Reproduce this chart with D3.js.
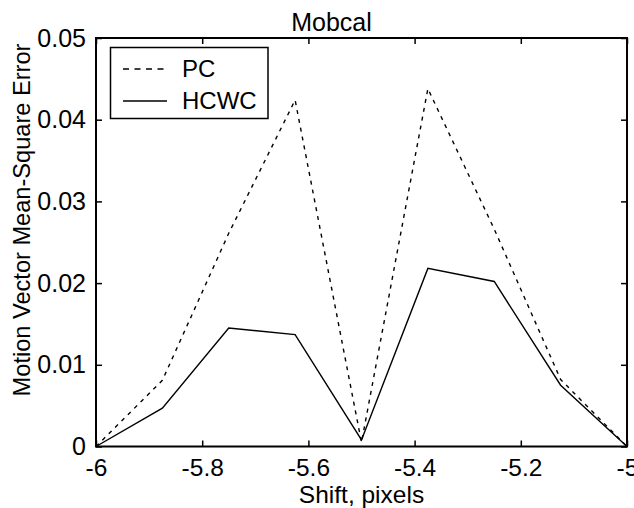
<!DOCTYPE html>
<html>
<head>
<meta charset="utf-8">
<script src="https://cdn.jsdelivr.net/npm/d3@7"></script>
<style>
  html, body { margin: 0; padding: 0; background: #fff; }
  svg { display: block; }
  text { font-family: "Liberation Sans", Arial, sans-serif; fill: #000; }
</style>
</head>
<body>
<svg id="chart" width="634" height="508"></svg>
<script>
// ---- data ----
const shifts = [-6, -5.875, -5.75, -5.625, -5.5, -5.375, -5.25, -5.125, -5];
const pcValues = [0, 0.0081, 0.0261, 0.0424, 0.0005, 0.0438, 0.0266, 0.0082, 0];
const hcwcValues = [0, 0.0047, 0.0145, 0.0137, 0.0008, 0.0218, 0.0202, 0.0075, 0];
const seriesNames = ["PC", "HCWC"];
const xTicks = [-6, -5.8, -5.6, -5.4, -5.2, -5];
const yTicks = [0, 0.01, 0.02, 0.03, 0.04, 0.05];
const titleText = "Mobcal";
const xLabel = "Shift, pixels";
const yLabel = "Motion Vector Mean-Square Error";

// ---- layout ----
const L = 96, R = 627, T = 38, B = 446.5;
const svg = d3.select("#chart");
const x = d3.scaleLinear().domain([-6, -5]).range([L, R]);
const y = d3.scaleLinear().domain([0, 0.05]).range([B, T]);
const fs = 25;
const fmt = d => String(+(+d).toFixed(2));

// axes (inward ticks)
const gx = svg.append("g").attr("transform", `translate(0,${B})`)
  .call(d3.axisBottom(x).tickValues(xTicks).tickSize(-6).tickPadding(12).tickFormat(fmt));
const gy = svg.append("g").attr("transform", `translate(${L},0)`)
  .call(d3.axisLeft(y).tickValues(yTicks).tickSize(-6).tickPadding(10).tickFormat(fmt));
const gt = svg.append("g").attr("transform", `translate(0,${T})`)
  .call(d3.axisTop(x).tickValues(xTicks).tickSize(-6).tickFormat(""));
const gr = svg.append("g").attr("transform", `translate(${R},0)`)
  .call(d3.axisRight(y).tickValues(yTicks).tickSize(-6).tickFormat(""));

[gx, gy, gt, gr].forEach(g => {
  g.select(".domain").remove();
  g.selectAll(".tick line").attr("stroke", "#000").attr("stroke-width", 1.5);
  g.selectAll(".tick text").attr("font-size", fs)
    .attr("font-family", '"Liberation Sans", Arial, sans-serif').attr("fill", "#000");
});
gx.selectAll(".tick text").attr("font-size", 24.5);

// frame
svg.append("rect").attr("x", L).attr("y", T).attr("width", R - L).attr("height", B - T)
  .attr("fill", "none").attr("stroke", "#000").attr("stroke-width", 2);

// lines
const line = d3.line().x((d, i) => x(shifts[i])).y(d => y(d));
svg.append("path").datum(pcValues).attr("d", line)
  .attr("fill", "none").attr("stroke", "#000").attr("stroke-width", 1.4)
  .attr("stroke-dasharray", "4,5");
svg.append("path").datum(hcwcValues).attr("d", line)
  .attr("fill", "none").attr("stroke", "#000").attr("stroke-width", 1.4);

// title and labels
svg.append("text").attr("x", 331.5).attr("y", 31).attr("text-anchor", "middle")
  .attr("font-size", fs).text(titleText);
svg.append("text").attr("x", (L + R) / 2).attr("y", 502.5).attr("text-anchor", "middle")
  .attr("font-size", 24.5).text(xLabel);
svg.append("text").attr("transform", "translate(30,220) rotate(-90)")
  .attr("text-anchor", "middle").attr("font-size", 23.6).text(yLabel);

// legend
const lg = svg.append("g");
lg.append("rect").attr("x", 110.5).attr("y", 47.5).attr("width", 157.5).attr("height", 71)
  .attr("fill", "#fff").attr("stroke", "#000").attr("stroke-width", 1.5);
const legendRows = [69, 101];
seriesNames.forEach((name, i) => {
  lg.append("line").attr("x1", 123).attr("x2", 167)
    .attr("y1", legendRows[i]).attr("y2", legendRows[i])
    .attr("stroke", "#000").attr("stroke-width", 1.4)
    .attr("stroke-dasharray", i === 0 ? "6,5.5" : null);
  lg.append("text").attr("x", 182).attr("y", legendRows[i] + 8)
    .attr("font-size", 24).text(name);
});
</script>
</body>
</html>
